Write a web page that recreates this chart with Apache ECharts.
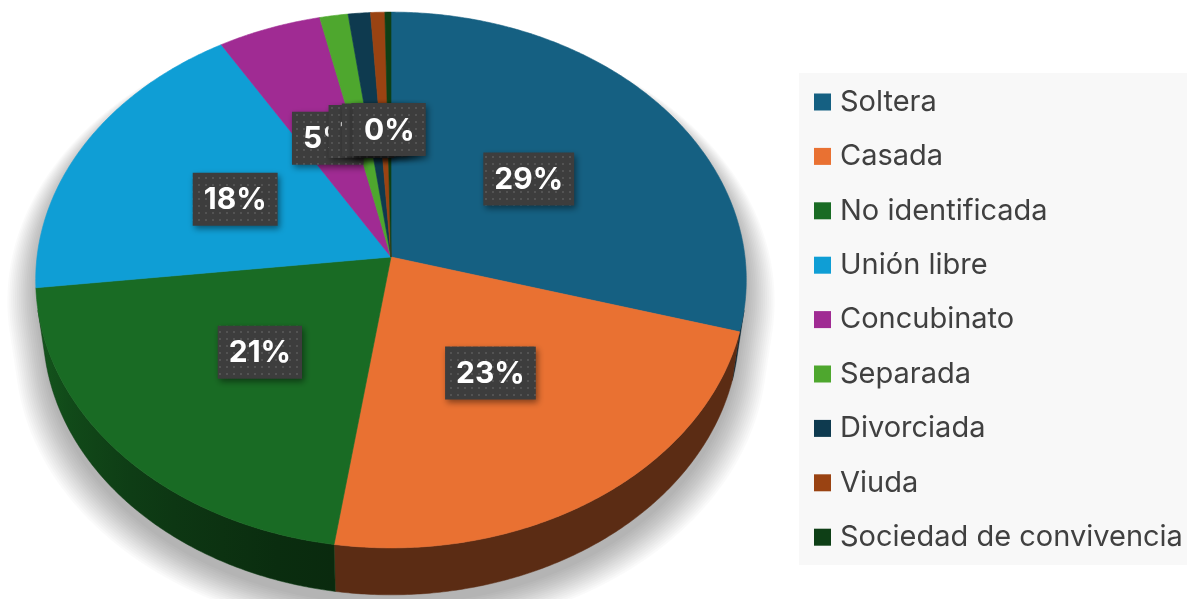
<!DOCTYPE html>
<html>
<head>
<meta charset="utf-8">
<script src="https://cdn.jsdelivr.net/npm/echarts@6/dist/echarts.min.js"></script>
<style>html,body{margin:0;padding:0;background:#fff}#c{width:1187px;height:599px}</style>
</head>
<body>
<div id="c"></div>
<script>
// ---- data ----
const categories = ['Soltera', 'Casada', 'No identificada', 'Unión libre', 'Concubinato', 'Separada', 'Divorciada', 'Viuda', 'Sociedad de convivencia'];
const values = [29.4, 22.9, 20.8, 18.2, 5.1, 1.4, 1.1, 0.7, 0.3];
const colors = ['#156082', '#E97132', '#196B24', '#0F9ED5', '#A02B93', '#4EA72E', '#0E3A4F', '#9A4312', '#0E3F16'];

// ---- 3D projection parameters (layout) ----
const CX = 391, CY = 257, F = 2722, D = 7.69, ALPHA = 48.7 * Math.PI / 180, H = 0.214;
const SA = Math.sin(ALPHA), CA = Math.cos(ALPHA);
function proj(theta, r, Y) {
  const X = r * Math.sin(theta), Z = r * Math.cos(theta);
  const depth = D - Y * SA + Z * CA;
  const up = Y * CA + Z * SA;
  return [CX + F * X / depth, CY - F * up / depth];
}
// front-facing wall range
const TH_LIM = Math.acos(-1 / (D * CA));
const FRONT_MIN = TH_LIM, FRONT_MAX = 2 * Math.PI - TH_LIM;

function shade(hex, k) {
  const n = parseInt(hex.slice(1), 16);
  const r = Math.round(((n >> 16) & 255) * k), g = Math.round(((n >> 8) & 255) * k), b = Math.round((n & 255) * k);
  return 'rgb(' + r + ',' + g + ',' + b + ')';
}
function wallFactor(th) {
  const deg = th * 180 / Math.PI;
  if (deg < 190) return 0.39;
  const t = Math.min(1, (deg - 190) / 68);
  return 0.39 + 0.43 * Math.pow(t, 1.2);
}

// label box pattern
const pat = document.createElement('canvas');
pat.width = 7; pat.height = 7;
(function () {
  const g = pat.getContext('2d');
  g.fillStyle = '#3d3d3d'; g.fillRect(0, 0, 7, 7);
  g.fillStyle = '#535353'; g.fillRect(2, 2, 2, 2);
})();
const LABEL_FONT = 'bold 30px Inter';
const measureCtx = document.createElement('canvas').getContext('2d');

const total = values.reduce((a, b) => a + b, 0);
const starts = [];
let acc = 0;
values.forEach(v => { starts.push(acc); acc += v; });

function makeRender(i) {
  return function (params, api) {
    const a0 = api.value(0) / total * 2 * Math.PI;
    const a1 = api.value(1) / total * 2 * Math.PI;
    const col = colors[i];
    const children = [];
    // soft shadow below the pie (drawn once, as stacked translucent silhouettes)
    if (i === 0) {
      const sil = [];
      const N = 120;
      for (let k = 0; k <= N; k++) { // back rim (top face)
        const th = FRONT_MAX + (2 * Math.PI - (FRONT_MAX - FRONT_MIN)) * k / N;
        sil.push(proj(th, 1, 0));
      }
      for (let k = 0; k <= N; k++) { // front rim (bottom)
        const th = FRONT_MIN + (FRONT_MAX - FRONT_MIN) * k / N;
        sil.push(proj(th, 1, -H));
      }
      const L = 16;
      for (let k = 0; k < L; k++) {
        const s = 1.0 + 0.08 * k / (L - 1);
        const sy = 1 + (s - 1) * 0.7;
        const dy = 10 + 10 * k / (L - 1);
        children.push({
          type: 'polygon', z2: 0, silent: true,
          shape: { points: sil.map(p => [CX + (p[0] - CX) * s, CY + (p[1] - CY) * sy + dy]) },
          style: { fill: 'rgba(0,0,0,0.019)' }
        });
      }
    }
    // outer side wall (front-facing part only), single polygon with horizontal shading gradient
    const w0 = Math.max(a0, FRONT_MIN), w1 = Math.min(a1, FRONT_MAX);
    if (w1 > w0) {
      const n = Math.max(2, Math.ceil((w1 - w0) / (0.5 * Math.PI / 180)));
      const topPts = [], botPts = [];
      for (let k = 0; k <= n; k++) {
        const t = w0 + (w1 - w0) * k / n;
        topPts.push(proj(t, 1, 0));
        botPts.push(proj(t, 1, -H));
      }
      const pts = topPts.concat(botPts.reverse());
      let xmin = Infinity, xmax = -Infinity;
      pts.forEach(p => { xmin = Math.min(xmin, p[0]); xmax = Math.max(xmax, p[0]); });
      const stops = [];
      const S = 8;
      for (let k = 0; k <= S; k++) {
        const t = w0 + (w1 - w0) * k / S;
        const x = proj(t, 1, 0)[0];
        const off = xmax > xmin ? (x - xmin) / (xmax - xmin) : 0;
        stops.push({ offset: Math.min(1, Math.max(0, off)), color: shade(col, wallFactor(t)) });
      }
      stops.sort((a, b) => a.offset - b.offset);
      children.push({
        type: 'polygon', z2: 1, silent: true,
        shape: { points: pts },
        style: {
          fill: { type: 'linear', x: xmin, y: 0, x2: xmax, y2: 0, global: true, colorStops: stops },
          stroke: shade(col, wallFactor((w0 + w1) / 2)), lineWidth: 0.5
        }
      });
    }
    // top face
    const pts = [proj(0, 0, 0)];
    const m = Math.max(2, Math.ceil((a1 - a0) / (0.5 * Math.PI / 180)));
    for (let k = 0; k <= m; k++) pts.push(proj(a0 + (a1 - a0) * k / m, 1, 0));
    children.push({
      type: 'polygon', z2: 10, silent: true,
      shape: { points: pts },
      style: { fill: col, stroke: col, lineWidth: 0.6 }
    });
    // data label
    const mid = (a0 + a1) / 2;
    const lp = proj(mid, 0.5, 0);
    const txt = Math.round(api.value(2) / total * 100) + '%';
    measureCtx.font = LABEL_FONT;
    const tw = measureCtx.measureText(txt).width;
    const bw = tw + 22, bh = 53;
    children.push({
      type: 'rect', z2: 100 + i * 2, silent: true,
      shape: { x: lp[0] - bw / 2, y: lp[1] - bh / 2, width: bw, height: bh },
      style: { fill: { image: pat, repeat: 'repeat' }, shadowBlur: 6, shadowOffsetX: 2, shadowOffsetY: 3, shadowColor: 'rgba(0,0,0,0.45)' }
    });
    children.push({
      type: 'text', z2: 101 + i * 2, silent: true,
      x: lp[0], y: lp[1] + 1,
      style: { text: txt, font: LABEL_FONT, fill: '#ffffff', align: 'center', verticalAlign: 'middle' }
    });
    return { type: 'group', children: children };
  };
}

const series = categories.map((name, i) => ({
  type: 'custom',
  name: name,
  coordinateSystem: 'none',
  itemStyle: { color: colors[i] },
  data: [[starts[i], starts[i] + values[i], values[i]]],
  renderItem: makeRender(i),
  animation: false
}));

const chart = echarts.init(document.getElementById('c'), null, { renderer: 'canvas' });
chart.setOption({
  backgroundColor: '#ffffff',
  animation: false,
  color: colors,
  graphic: [{
    type: 'rect', z: 0, silent: true,
    shape: { x: 799, y: 73, width: 388, height: 492 },
    style: { fill: '#F8F8F8' }
  }],
  legend: {
    orient: 'vertical', left: 814, top: 87, padding: 0,
    icon: 'rect', itemWidth: 17, itemHeight: 17, itemGap: 24.4,
    selectedMode: false,
    textStyle: { fontFamily: 'Inter', fontSize: 29, color: '#404040', lineHeight: 30, padding: [0, 0, 0, 4] },
    data: categories
  },
  series: series
});
</script>
</body>
</html>
